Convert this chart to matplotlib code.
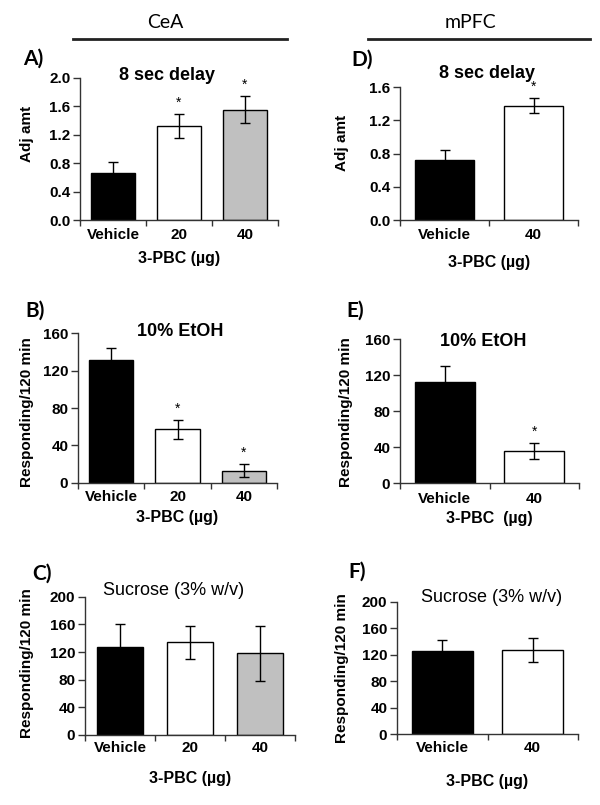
import matplotlib
matplotlib.use("Agg")
import matplotlib.pyplot as plt
import numpy as np
from matplotlib.lines import Line2D

# ---------------- data ----------------
cea_groups = ["Vehicle", "20", "40"]
mpfc_groups = ["Vehicle", "40"]
cea_colors = ["black", "white", "#c0c0c0"]
mpfc_colors = ["black", "white"]

A_mean = [0.66, 1.32, 1.55]
A_err = [0.16, 0.17, 0.19]
A_sig = [False, True, True]

B_mean = [131, 57, 13]
B_err = [13.5, 10.5, 7.3]
B_sig = [False, True, True]

C_mean = [127, 134, 118]
C_err = [33, 23.5, 40]
C_sig = [False, False, False]

D_mean = [0.72, 1.38]
D_err = [0.125, 0.09]
D_sig = [False, True]

E_mean = [113, 36]
E_err = [17.5, 8.5]
E_sig = [False, True]

F_mean = [125, 127]
F_err = [17.5, 17.5]
F_sig = [False, False]

W, H = 600, 805
fig = plt.figure(figsize=(W / 100, H / 100), dpi=100)

AR = "Liberation Sans"
CAL = "Lato"


def fx(x):
    return x / W


def fy(y):
    return 1 - y / H


def panel(rect_px, groups, means, errs, sigs, colors, ymax, ystep, fmt,
          title, title_xy, title_bold, letter, letter_xy, ylabel, ylabel_xy,
          tick_off, xlabel, xlabel_off):
    l, t, r, b = rect_px
    ax = fig.add_axes([fx(l), fy(b), (r - l) / W, (b - t) / H])
    n = len(groups)
    x = np.arange(n)
    ax.bar(x, means, width=0.67, color=colors, edgecolor="black", linewidth=1.0, zorder=2)
    ax.errorbar(x, means, yerr=errs, fmt="none", ecolor="black", elinewidth=1.0,
                capsize=3.5, capthick=1.0, zorder=3)
    for xi, m, e, s in zip(x, means, errs, sigs):
        if s:
            ax.annotate("*", xy=(xi, m + e), xytext=(0, 3), textcoords="offset points",
                        ha="center", va="bottom", fontsize=10, family=AR)
    ax.set_xlim(-0.5, n - 0.5)
    ax.set_ylim(0, ymax)
    yt = np.arange(0, ymax + ystep / 2, ystep)
    ax.set_yticks(yt)
    ax.set_yticklabels([fmt % v for v in yt], fontsize=11, fontweight="bold", family=AR)
    ax.set_xticks(x)
    ax.set_xticklabels(groups, fontsize=11, fontweight="bold", family=AR)
    ax.set_xticks(np.arange(-0.5, n, 1.0), minor=True)
    ax.tick_params(axis="x", which="major", length=0, pad=tick_off)
    ax.tick_params(axis="x", which="minor", length=4, width=1, direction="out", color="#333333")
    ax.tick_params(axis="y", which="major", length=5, width=1, direction="out", color="#333333", pad=2)
    for s in ["top", "right"]:
        ax.spines[s].set_visible(False)
    for s in ["left", "bottom"]:
        ax.spines[s].set_linewidth(1.0)
        ax.spines[s].set_color("#333333")
    ax.set_facecolor("none")
    # labels
    ax.set_ylabel(ylabel, fontsize=11, fontweight="bold", family=AR)
    ax.yaxis.label.set_verticalalignment("center")
    ax.yaxis.set_label_coords(fx(ylabel_xy[0]), fy(ylabel_xy[1]), transform=fig.transFigure)
    fig.text(fx((l + r) / 2), fy(b + xlabel_off), xlabel, ha="center", va="center",
             fontsize=11.5, fontweight="bold", family=AR)
    fig.text(fx(title_xy[0]), fy(title_xy[1]), title, ha="center", va="center",
             fontsize=13, fontweight="bold" if title_bold else "normal", family=AR)
    fig.text(fx(letter_xy[0]), fy(letter_xy[1]), letter, ha="center", va="center",
             fontsize=15, fontweight="bold", family=CAL)
    return ax


# Column headers
fig.text(fx(165), fy(23), "CeA", ha="center", va="center", fontsize=14, family=CAL)
fig.text(fx(470), fy(23), "mPFC", ha="center", va="center", fontsize=14, family=CAL)
fig.add_artist(Line2D([fx(73), fx(287)], [fy(39), fy(39)], color="#222222", lw=2,
                      transform=fig.transFigure))
fig.add_artist(Line2D([fx(368), fx(590)], [fy(39), fy(39)], color="#222222", lw=2,
                      transform=fig.transFigure))

panel((80, 77.7, 278, 220), cea_groups, A_mean, A_err, A_sig, cea_colors, 2.0, 0.4, "%.1f",
      "8 sec delay", (167, 75), True, "A)", (33, 59), "Adj amt", (27, 134),
      6, "3-PBC (µg)", 38)
panel((78, 333.3, 277, 482.7), cea_groups, B_mean, B_err, B_sig, cea_colors, 160, 40, "%d",
      "10% EtOH", (180, 332), True, "B)", (35, 311), "Responding/120 min", (27.5, 412),
      5, "3-PBC (µg)", 35)
panel((85, 596.7, 295, 735), cea_groups, C_mean, C_err, C_sig, cea_colors, 200, 40, "%d",
      "Sucrose (3% w/v)", (174, 590), False, "C)", (42, 574), "Responding/120 min", (27.5, 663),
      4, "3-PBC (µg)", 43)
panel((400, 87.3, 578, 220), mpfc_groups, D_mean, D_err, D_sig, mpfc_colors, 1.6, 0.4, "%.1f",
      "8 sec delay", (487, 73), True, "D)", (362, 60), "Adj amt", (342, 143),
      6, "3-PBC (µg)", 42)
panel((400, 339.3, 579, 483.3), mpfc_groups, E_mean, E_err, E_sig, mpfc_colors, 160, 40, "%d",
      "10% EtOH", (483, 341), True, "E)", (355, 311), "Responding/120 min", (346, 412),
      6, "3-PBC  (µg)", 35)
panel((397, 601.7, 578, 734), mpfc_groups, F_mean, F_err, F_sig, mpfc_colors, 200, 40, "%d",
      "Sucrose (3% w/v)", (492, 597), False, "F)", (357, 572), "Responding/120 min", (342, 668),
      5, "3-PBC (µg)", 47)

fig.savefig("out.png", dpi=100)
